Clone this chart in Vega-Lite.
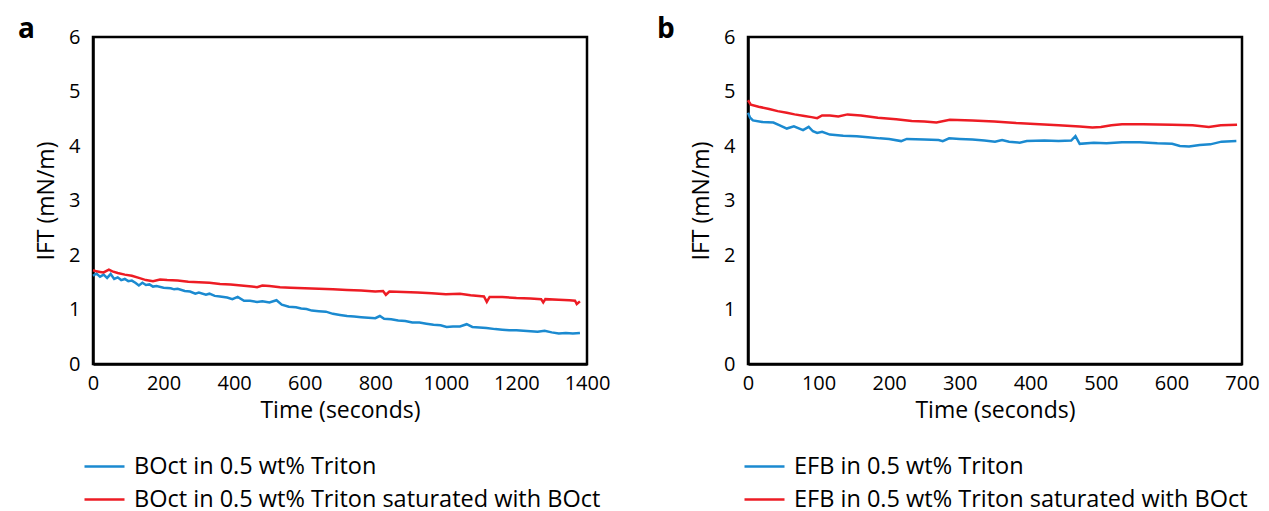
{
  "$schema": "https://vega.github.io/schema/vega-lite/v6.json",
  "padding": {"left": 16, "top": 14, "right": 5, "bottom": 0},
  "background": "white",
  "config": {
    "font": "Open Sans",
    "view": {"stroke": "black", "strokeWidth": 2.5},
    "axis": {"grid": false, "ticks": false, "domainColor": "black", "domainWidth": 2.5, "labelFont": "Open Sans", "labelFontSize": 20, "labelColor": "black", "titleFont": "Open Sans", "titleFontSize": 23, "titleFontWeight": "normal", "titleColor": "black", "labelFlush": false, "labelOverlap": false, "format": "d"},
    "legend": {"labelFont": "Open Sans", "labelFontSize": 23.5, "labelColor": "black", "symbolType": "stroke", "symbolSize": 1600, "symbolStrokeWidth": 2.5, "labelOffset": 8, "rowPadding": -11, "orient": "none", "direction": "vertical", "title": null, "labelLimit": 800},
    "title": {"font": "Open Sans", "fontSize": 28, "fontWeight": "bold", "color": "black", "anchor": "start", "frame": "group", "baseline": "alphabetic", "offset": 0}
  },
  "datasets": {
    "panelA": [
      {"t": 0, "v": 1.62, "s": "BOct in 0.5 wt% Triton"},
      {"t": 10, "v": 1.66, "s": "BOct in 0.5 wt% Triton"},
      {"t": 20, "v": 1.60, "s": "BOct in 0.5 wt% Triton"},
      {"t": 30, "v": 1.64, "s": "BOct in 0.5 wt% Triton"},
      {"t": 40, "v": 1.58, "s": "BOct in 0.5 wt% Triton"},
      {"t": 50, "v": 1.65, "s": "BOct in 0.5 wt% Triton"},
      {"t": 60, "v": 1.56, "s": "BOct in 0.5 wt% Triton"},
      {"t": 70, "v": 1.59, "s": "BOct in 0.5 wt% Triton"},
      {"t": 80, "v": 1.54, "s": "BOct in 0.5 wt% Triton"},
      {"t": 90, "v": 1.56, "s": "BOct in 0.5 wt% Triton"},
      {"t": 100, "v": 1.52, "s": "BOct in 0.5 wt% Triton"},
      {"t": 110, "v": 1.53, "s": "BOct in 0.5 wt% Triton"},
      {"t": 120, "v": 1.49, "s": "BOct in 0.5 wt% Triton"},
      {"t": 130, "v": 1.44, "s": "BOct in 0.5 wt% Triton"},
      {"t": 140, "v": 1.49, "s": "BOct in 0.5 wt% Triton"},
      {"t": 150, "v": 1.45, "s": "BOct in 0.5 wt% Triton"},
      {"t": 160, "v": 1.46, "s": "BOct in 0.5 wt% Triton"},
      {"t": 170, "v": 1.42, "s": "BOct in 0.5 wt% Triton"},
      {"t": 180, "v": 1.43, "s": "BOct in 0.5 wt% Triton"},
      {"t": 200, "v": 1.40, "s": "BOct in 0.5 wt% Triton"},
      {"t": 220, "v": 1.39, "s": "BOct in 0.5 wt% Triton"},
      {"t": 230, "v": 1.37, "s": "BOct in 0.5 wt% Triton"},
      {"t": 240, "v": 1.38, "s": "BOct in 0.5 wt% Triton"},
      {"t": 260, "v": 1.34, "s": "BOct in 0.5 wt% Triton"},
      {"t": 275, "v": 1.33, "s": "BOct in 0.5 wt% Triton"},
      {"t": 290, "v": 1.29, "s": "BOct in 0.5 wt% Triton"},
      {"t": 300, "v": 1.31, "s": "BOct in 0.5 wt% Triton"},
      {"t": 320, "v": 1.27, "s": "BOct in 0.5 wt% Triton"},
      {"t": 330, "v": 1.29, "s": "BOct in 0.5 wt% Triton"},
      {"t": 345, "v": 1.25, "s": "BOct in 0.5 wt% Triton"},
      {"t": 360, "v": 1.24, "s": "BOct in 0.5 wt% Triton"},
      {"t": 380, "v": 1.22, "s": "BOct in 0.5 wt% Triton"},
      {"t": 395, "v": 1.19, "s": "BOct in 0.5 wt% Triton"},
      {"t": 410, "v": 1.23, "s": "BOct in 0.5 wt% Triton"},
      {"t": 428, "v": 1.16, "s": "BOct in 0.5 wt% Triton"},
      {"t": 445, "v": 1.16, "s": "BOct in 0.5 wt% Triton"},
      {"t": 465, "v": 1.14, "s": "BOct in 0.5 wt% Triton"},
      {"t": 480, "v": 1.15, "s": "BOct in 0.5 wt% Triton"},
      {"t": 500, "v": 1.13, "s": "BOct in 0.5 wt% Triton"},
      {"t": 520, "v": 1.17, "s": "BOct in 0.5 wt% Triton"},
      {"t": 535, "v": 1.09, "s": "BOct in 0.5 wt% Triton"},
      {"t": 555, "v": 1.05, "s": "BOct in 0.5 wt% Triton"},
      {"t": 575, "v": 1.04, "s": "BOct in 0.5 wt% Triton"},
      {"t": 590, "v": 1.02, "s": "BOct in 0.5 wt% Triton"},
      {"t": 605, "v": 1.01, "s": "BOct in 0.5 wt% Triton"},
      {"t": 620, "v": 0.98, "s": "BOct in 0.5 wt% Triton"},
      {"t": 640, "v": 0.97, "s": "BOct in 0.5 wt% Triton"},
      {"t": 660, "v": 0.96, "s": "BOct in 0.5 wt% Triton"},
      {"t": 680, "v": 0.92, "s": "BOct in 0.5 wt% Triton"},
      {"t": 700, "v": 0.90, "s": "BOct in 0.5 wt% Triton"},
      {"t": 720, "v": 0.88, "s": "BOct in 0.5 wt% Triton"},
      {"t": 740, "v": 0.87, "s": "BOct in 0.5 wt% Triton"},
      {"t": 760, "v": 0.86, "s": "BOct in 0.5 wt% Triton"},
      {"t": 780, "v": 0.85, "s": "BOct in 0.5 wt% Triton"},
      {"t": 800, "v": 0.84, "s": "BOct in 0.5 wt% Triton"},
      {"t": 813, "v": 0.88, "s": "BOct in 0.5 wt% Triton"},
      {"t": 825, "v": 0.83, "s": "BOct in 0.5 wt% Triton"},
      {"t": 845, "v": 0.82, "s": "BOct in 0.5 wt% Triton"},
      {"t": 865, "v": 0.80, "s": "BOct in 0.5 wt% Triton"},
      {"t": 885, "v": 0.79, "s": "BOct in 0.5 wt% Triton"},
      {"t": 905, "v": 0.76, "s": "BOct in 0.5 wt% Triton"},
      {"t": 925, "v": 0.76, "s": "BOct in 0.5 wt% Triton"},
      {"t": 945, "v": 0.74, "s": "BOct in 0.5 wt% Triton"},
      {"t": 965, "v": 0.72, "s": "BOct in 0.5 wt% Triton"},
      {"t": 985, "v": 0.71, "s": "BOct in 0.5 wt% Triton"},
      {"t": 1002, "v": 0.68, "s": "BOct in 0.5 wt% Triton"},
      {"t": 1020, "v": 0.69, "s": "BOct in 0.5 wt% Triton"},
      {"t": 1040, "v": 0.69, "s": "BOct in 0.5 wt% Triton"},
      {"t": 1059, "v": 0.73, "s": "BOct in 0.5 wt% Triton"},
      {"t": 1075, "v": 0.68, "s": "BOct in 0.5 wt% Triton"},
      {"t": 1095, "v": 0.67, "s": "BOct in 0.5 wt% Triton"},
      {"t": 1115, "v": 0.66, "s": "BOct in 0.5 wt% Triton"},
      {"t": 1140, "v": 0.64, "s": "BOct in 0.5 wt% Triton"},
      {"t": 1160, "v": 0.63, "s": "BOct in 0.5 wt% Triton"},
      {"t": 1180, "v": 0.62, "s": "BOct in 0.5 wt% Triton"},
      {"t": 1200, "v": 0.62, "s": "BOct in 0.5 wt% Triton"},
      {"t": 1220, "v": 0.61, "s": "BOct in 0.5 wt% Triton"},
      {"t": 1240, "v": 0.60, "s": "BOct in 0.5 wt% Triton"},
      {"t": 1260, "v": 0.59, "s": "BOct in 0.5 wt% Triton"},
      {"t": 1280, "v": 0.61, "s": "BOct in 0.5 wt% Triton"},
      {"t": 1300, "v": 0.58, "s": "BOct in 0.5 wt% Triton"},
      {"t": 1320, "v": 0.56, "s": "BOct in 0.5 wt% Triton"},
      {"t": 1340, "v": 0.57, "s": "BOct in 0.5 wt% Triton"},
      {"t": 1360, "v": 0.56, "s": "BOct in 0.5 wt% Triton"},
      {"t": 1380, "v": 0.57, "s": "BOct in 0.5 wt% Triton"},
      {"t": 0, "v": 1.72, "s": "BOct in 0.5 wt% Triton saturated with BOct"},
      {"t": 10, "v": 1.70, "s": "BOct in 0.5 wt% Triton saturated with BOct"},
      {"t": 20, "v": 1.69, "s": "BOct in 0.5 wt% Triton saturated with BOct"},
      {"t": 30, "v": 1.68, "s": "BOct in 0.5 wt% Triton saturated with BOct"},
      {"t": 45, "v": 1.73, "s": "BOct in 0.5 wt% Triton saturated with BOct"},
      {"t": 55, "v": 1.70, "s": "BOct in 0.5 wt% Triton saturated with BOct"},
      {"t": 70, "v": 1.67, "s": "BOct in 0.5 wt% Triton saturated with BOct"},
      {"t": 90, "v": 1.64, "s": "BOct in 0.5 wt% Triton saturated with BOct"},
      {"t": 110, "v": 1.62, "s": "BOct in 0.5 wt% Triton saturated with BOct"},
      {"t": 130, "v": 1.58, "s": "BOct in 0.5 wt% Triton saturated with BOct"},
      {"t": 150, "v": 1.54, "s": "BOct in 0.5 wt% Triton saturated with BOct"},
      {"t": 170, "v": 1.52, "s": "BOct in 0.5 wt% Triton saturated with BOct"},
      {"t": 190, "v": 1.55, "s": "BOct in 0.5 wt% Triton saturated with BOct"},
      {"t": 210, "v": 1.54, "s": "BOct in 0.5 wt% Triton saturated with BOct"},
      {"t": 240, "v": 1.53, "s": "BOct in 0.5 wt% Triton saturated with BOct"},
      {"t": 270, "v": 1.51, "s": "BOct in 0.5 wt% Triton saturated with BOct"},
      {"t": 300, "v": 1.50, "s": "BOct in 0.5 wt% Triton saturated with BOct"},
      {"t": 330, "v": 1.49, "s": "BOct in 0.5 wt% Triton saturated with BOct"},
      {"t": 360, "v": 1.47, "s": "BOct in 0.5 wt% Triton saturated with BOct"},
      {"t": 390, "v": 1.46, "s": "BOct in 0.5 wt% Triton saturated with BOct"},
      {"t": 420, "v": 1.44, "s": "BOct in 0.5 wt% Triton saturated with BOct"},
      {"t": 450, "v": 1.42, "s": "BOct in 0.5 wt% Triton saturated with BOct"},
      {"t": 465, "v": 1.41, "s": "BOct in 0.5 wt% Triton saturated with BOct"},
      {"t": 480, "v": 1.44, "s": "BOct in 0.5 wt% Triton saturated with BOct"},
      {"t": 500, "v": 1.43, "s": "BOct in 0.5 wt% Triton saturated with BOct"},
      {"t": 530, "v": 1.41, "s": "BOct in 0.5 wt% Triton saturated with BOct"},
      {"t": 560, "v": 1.40, "s": "BOct in 0.5 wt% Triton saturated with BOct"},
      {"t": 600, "v": 1.39, "s": "BOct in 0.5 wt% Triton saturated with BOct"},
      {"t": 640, "v": 1.38, "s": "BOct in 0.5 wt% Triton saturated with BOct"},
      {"t": 680, "v": 1.37, "s": "BOct in 0.5 wt% Triton saturated with BOct"},
      {"t": 720, "v": 1.36, "s": "BOct in 0.5 wt% Triton saturated with BOct"},
      {"t": 760, "v": 1.35, "s": "BOct in 0.5 wt% Triton saturated with BOct"},
      {"t": 800, "v": 1.33, "s": "BOct in 0.5 wt% Triton saturated with BOct"},
      {"t": 822, "v": 1.34, "s": "BOct in 0.5 wt% Triton saturated with BOct"},
      {"t": 830, "v": 1.27, "s": "BOct in 0.5 wt% Triton saturated with BOct"},
      {"t": 840, "v": 1.33, "s": "BOct in 0.5 wt% Triton saturated with BOct"},
      {"t": 880, "v": 1.32, "s": "BOct in 0.5 wt% Triton saturated with BOct"},
      {"t": 920, "v": 1.31, "s": "BOct in 0.5 wt% Triton saturated with BOct"},
      {"t": 960, "v": 1.30, "s": "BOct in 0.5 wt% Triton saturated with BOct"},
      {"t": 1000, "v": 1.28, "s": "BOct in 0.5 wt% Triton saturated with BOct"},
      {"t": 1040, "v": 1.29, "s": "BOct in 0.5 wt% Triton saturated with BOct"},
      {"t": 1070, "v": 1.26, "s": "BOct in 0.5 wt% Triton saturated with BOct"},
      {"t": 1108, "v": 1.24, "s": "BOct in 0.5 wt% Triton saturated with BOct"},
      {"t": 1116, "v": 1.14, "s": "BOct in 0.5 wt% Triton saturated with BOct"},
      {"t": 1124, "v": 1.23, "s": "BOct in 0.5 wt% Triton saturated with BOct"},
      {"t": 1160, "v": 1.23, "s": "BOct in 0.5 wt% Triton saturated with BOct"},
      {"t": 1200, "v": 1.21, "s": "BOct in 0.5 wt% Triton saturated with BOct"},
      {"t": 1240, "v": 1.20, "s": "BOct in 0.5 wt% Triton saturated with BOct"},
      {"t": 1270, "v": 1.19, "s": "BOct in 0.5 wt% Triton saturated with BOct"},
      {"t": 1276, "v": 1.13, "s": "BOct in 0.5 wt% Triton saturated with BOct"},
      {"t": 1282, "v": 1.19, "s": "BOct in 0.5 wt% Triton saturated with BOct"},
      {"t": 1320, "v": 1.18, "s": "BOct in 0.5 wt% Triton saturated with BOct"},
      {"t": 1350, "v": 1.17, "s": "BOct in 0.5 wt% Triton saturated with BOct"},
      {"t": 1366, "v": 1.16, "s": "BOct in 0.5 wt% Triton saturated with BOct"},
      {"t": 1371, "v": 1.10, "s": "BOct in 0.5 wt% Triton saturated with BOct"},
      {"t": 1380, "v": 1.15, "s": "BOct in 0.5 wt% Triton saturated with BOct"}
    ],
    "panelB": [
      {"t": 0, "v": 4.61, "s": "EFB in 0.5 wt% Triton"},
      {"t": 3, "v": 4.52, "s": "EFB in 0.5 wt% Triton"},
      {"t": 7, "v": 4.47, "s": "EFB in 0.5 wt% Triton"},
      {"t": 20, "v": 4.44, "s": "EFB in 0.5 wt% Triton"},
      {"t": 36, "v": 4.43, "s": "EFB in 0.5 wt% Triton"},
      {"t": 45, "v": 4.38, "s": "EFB in 0.5 wt% Triton"},
      {"t": 55, "v": 4.32, "s": "EFB in 0.5 wt% Triton"},
      {"t": 65, "v": 4.36, "s": "EFB in 0.5 wt% Triton"},
      {"t": 78, "v": 4.29, "s": "EFB in 0.5 wt% Triton"},
      {"t": 86, "v": 4.35, "s": "EFB in 0.5 wt% Triton"},
      {"t": 92, "v": 4.27, "s": "EFB in 0.5 wt% Triton"},
      {"t": 98, "v": 4.24, "s": "EFB in 0.5 wt% Triton"},
      {"t": 105, "v": 4.26, "s": "EFB in 0.5 wt% Triton"},
      {"t": 116, "v": 4.21, "s": "EFB in 0.5 wt% Triton"},
      {"t": 135, "v": 4.19, "s": "EFB in 0.5 wt% Triton"},
      {"t": 154, "v": 4.18, "s": "EFB in 0.5 wt% Triton"},
      {"t": 170, "v": 4.16, "s": "EFB in 0.5 wt% Triton"},
      {"t": 187, "v": 4.14, "s": "EFB in 0.5 wt% Triton"},
      {"t": 200, "v": 4.13, "s": "EFB in 0.5 wt% Triton"},
      {"t": 217, "v": 4.09, "s": "EFB in 0.5 wt% Triton"},
      {"t": 225, "v": 4.13, "s": "EFB in 0.5 wt% Triton"},
      {"t": 250, "v": 4.12, "s": "EFB in 0.5 wt% Triton"},
      {"t": 270, "v": 4.11, "s": "EFB in 0.5 wt% Triton"},
      {"t": 276, "v": 4.09, "s": "EFB in 0.5 wt% Triton"},
      {"t": 285, "v": 4.14, "s": "EFB in 0.5 wt% Triton"},
      {"t": 300, "v": 4.13, "s": "EFB in 0.5 wt% Triton"},
      {"t": 318, "v": 4.12, "s": "EFB in 0.5 wt% Triton"},
      {"t": 335, "v": 4.10, "s": "EFB in 0.5 wt% Triton"},
      {"t": 350, "v": 4.08, "s": "EFB in 0.5 wt% Triton"},
      {"t": 360, "v": 4.11, "s": "EFB in 0.5 wt% Triton"},
      {"t": 370, "v": 4.08, "s": "EFB in 0.5 wt% Triton"},
      {"t": 385, "v": 4.06, "s": "EFB in 0.5 wt% Triton"},
      {"t": 395, "v": 4.09, "s": "EFB in 0.5 wt% Triton"},
      {"t": 420, "v": 4.10, "s": "EFB in 0.5 wt% Triton"},
      {"t": 440, "v": 4.09, "s": "EFB in 0.5 wt% Triton"},
      {"t": 458, "v": 4.10, "s": "EFB in 0.5 wt% Triton"},
      {"t": 464, "v": 4.18, "s": "EFB in 0.5 wt% Triton"},
      {"t": 470, "v": 4.04, "s": "EFB in 0.5 wt% Triton"},
      {"t": 490, "v": 4.06, "s": "EFB in 0.5 wt% Triton"},
      {"t": 508, "v": 4.05, "s": "EFB in 0.5 wt% Triton"},
      {"t": 530, "v": 4.07, "s": "EFB in 0.5 wt% Triton"},
      {"t": 555, "v": 4.07, "s": "EFB in 0.5 wt% Triton"},
      {"t": 580, "v": 4.05, "s": "EFB in 0.5 wt% Triton"},
      {"t": 601, "v": 4.04, "s": "EFB in 0.5 wt% Triton"},
      {"t": 612, "v": 4.00, "s": "EFB in 0.5 wt% Triton"},
      {"t": 625, "v": 3.99, "s": "EFB in 0.5 wt% Triton"},
      {"t": 640, "v": 4.02, "s": "EFB in 0.5 wt% Triton"},
      {"t": 655, "v": 4.03, "s": "EFB in 0.5 wt% Triton"},
      {"t": 671, "v": 4.08, "s": "EFB in 0.5 wt% Triton"},
      {"t": 692, "v": 4.09, "s": "EFB in 0.5 wt% Triton"},
      {"t": 0, "v": 4.84, "s": "EFB in 0.5 wt% Triton saturated with BOct"},
      {"t": 4, "v": 4.76, "s": "EFB in 0.5 wt% Triton saturated with BOct"},
      {"t": 15, "v": 4.72, "s": "EFB in 0.5 wt% Triton saturated with BOct"},
      {"t": 30, "v": 4.68, "s": "EFB in 0.5 wt% Triton saturated with BOct"},
      {"t": 42, "v": 4.64, "s": "EFB in 0.5 wt% Triton saturated with BOct"},
      {"t": 55, "v": 4.61, "s": "EFB in 0.5 wt% Triton saturated with BOct"},
      {"t": 66, "v": 4.58, "s": "EFB in 0.5 wt% Triton saturated with BOct"},
      {"t": 80, "v": 4.55, "s": "EFB in 0.5 wt% Triton saturated with BOct"},
      {"t": 90, "v": 4.53, "s": "EFB in 0.5 wt% Triton saturated with BOct"},
      {"t": 98, "v": 4.51, "s": "EFB in 0.5 wt% Triton saturated with BOct"},
      {"t": 105, "v": 4.56, "s": "EFB in 0.5 wt% Triton saturated with BOct"},
      {"t": 116, "v": 4.56, "s": "EFB in 0.5 wt% Triton saturated with BOct"},
      {"t": 128, "v": 4.54, "s": "EFB in 0.5 wt% Triton saturated with BOct"},
      {"t": 141, "v": 4.58, "s": "EFB in 0.5 wt% Triton saturated with BOct"},
      {"t": 160, "v": 4.56, "s": "EFB in 0.5 wt% Triton saturated with BOct"},
      {"t": 184, "v": 4.52, "s": "EFB in 0.5 wt% Triton saturated with BOct"},
      {"t": 210, "v": 4.49, "s": "EFB in 0.5 wt% Triton saturated with BOct"},
      {"t": 232, "v": 4.46, "s": "EFB in 0.5 wt% Triton saturated with BOct"},
      {"t": 250, "v": 4.45, "s": "EFB in 0.5 wt% Triton saturated with BOct"},
      {"t": 267, "v": 4.43, "s": "EFB in 0.5 wt% Triton saturated with BOct"},
      {"t": 286, "v": 4.48, "s": "EFB in 0.5 wt% Triton saturated with BOct"},
      {"t": 318, "v": 4.47, "s": "EFB in 0.5 wt% Triton saturated with BOct"},
      {"t": 349, "v": 4.45, "s": "EFB in 0.5 wt% Triton saturated with BOct"},
      {"t": 380, "v": 4.42, "s": "EFB in 0.5 wt% Triton saturated with BOct"},
      {"t": 413, "v": 4.40, "s": "EFB in 0.5 wt% Triton saturated with BOct"},
      {"t": 440, "v": 4.38, "s": "EFB in 0.5 wt% Triton saturated with BOct"},
      {"t": 470, "v": 4.36, "s": "EFB in 0.5 wt% Triton saturated with BOct"},
      {"t": 488, "v": 4.34, "s": "EFB in 0.5 wt% Triton saturated with BOct"},
      {"t": 500, "v": 4.35, "s": "EFB in 0.5 wt% Triton saturated with BOct"},
      {"t": 515, "v": 4.38, "s": "EFB in 0.5 wt% Triton saturated with BOct"},
      {"t": 530, "v": 4.40, "s": "EFB in 0.5 wt% Triton saturated with BOct"},
      {"t": 560, "v": 4.40, "s": "EFB in 0.5 wt% Triton saturated with BOct"},
      {"t": 601, "v": 4.39, "s": "EFB in 0.5 wt% Triton saturated with BOct"},
      {"t": 630, "v": 4.38, "s": "EFB in 0.5 wt% Triton saturated with BOct"},
      {"t": 653, "v": 4.35, "s": "EFB in 0.5 wt% Triton saturated with BOct"},
      {"t": 670, "v": 4.38, "s": "EFB in 0.5 wt% Triton saturated with BOct"},
      {"t": 693, "v": 4.39, "s": "EFB in 0.5 wt% Triton saturated with BOct"}
    ]
  },
  "resolve": {"scale": {"color": "independent", "x": "independent", "y": "independent"}, "legend": {"color": "independent"}},
  "spacing": 43,
  "hconcat": [
    {
      "width": 494,
      "height": 327,
      "title": {"text": "a", "dx": -75, "dy": 21},
      "data": {"name": "panelA"},
      "mark": {"type": "line", "strokeWidth": 2.5},
      "encoding": {
        "x": {"field": "t", "type": "quantitative", "scale": {"domain": [0, 1400], "nice": false}, "axis": {"values": [0, 200, 400, 600, 800, 1000, 1200, 1400], "title": "Time (seconds)", "labelPadding": 9, "titlePadding": 6}},
        "y": {"field": "v", "type": "quantitative", "scale": {"domain": [0, 6], "nice": false}, "axis": {"values": [0, 1, 2, 3, 4, 5, 6], "title": "IFT (mN/m)", "labelPadding": 13, "titlePadding": 10}},
        "color": {"field": "s", "type": "nominal", "scale": {"domain": ["BOct in 0.5 wt% Triton", "BOct in 0.5 wt% Triton saturated with BOct"], "range": ["#1b8ad0", "#ed1c24"]}, "legend": {"legendX": -10, "legendY": 408}},
        "order": {"field": "t", "type": "quantitative"}
      }
    },
    {
      "width": 494,
      "height": 327,
      "title": {"text": "b", "dx": -91, "dy": 21},
      "data": {"name": "panelB"},
      "mark": {"type": "line", "strokeWidth": 2.5},
      "encoding": {
        "x": {"field": "t", "type": "quantitative", "scale": {"domain": [0, 700], "nice": false}, "axis": {"values": [0, 100, 200, 300, 400, 500, 600, 700], "title": "Time (seconds)", "labelPadding": 9, "titlePadding": 6}},
        "y": {"field": "v", "type": "quantitative", "scale": {"domain": [0, 6], "nice": false}, "axis": {"values": [0, 1, 2, 3, 4, 5, 6], "title": "IFT (mN/m)", "labelPadding": 13, "titlePadding": 10}},
        "color": {"field": "s", "type": "nominal", "scale": {"domain": ["EFB in 0.5 wt% Triton", "EFB in 0.5 wt% Triton saturated with BOct"], "range": ["#1b8ad0", "#ed1c24"]}, "legend": {"legendX": -5, "legendY": 408}},
        "order": {"field": "t", "type": "quantitative"}
      }
    }
  ]
}
